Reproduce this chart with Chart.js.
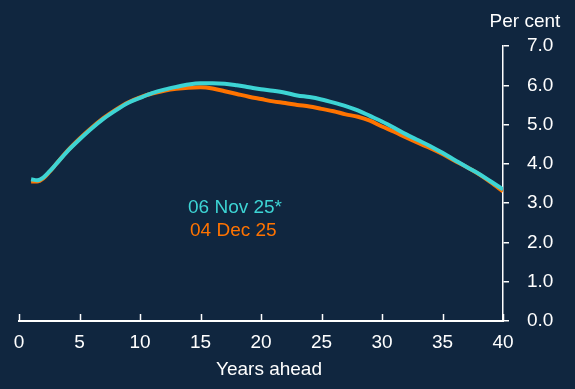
<!DOCTYPE html>
<html>
<head>
<meta charset="utf-8">
<script src="https://cdn.jsdelivr.net/npm/chart.js@4/dist/chart.umd.min.js"></script>
<style>
  html, body { margin: 0; padding: 0; background: #10263f; }
  #wrap { width: 575px; height: 389px; }
</style>
</head>
<body>
<div id="wrap"><canvas id="curve" width="575" height="389"></canvas></div>
<script>
// Years ahead (x) and the two curves
const YEARS = [1, 1.5, 2, 2.5, 3, 4, 5, 6, 7, 8, 9, 10, 11, 12, 13, 14, 15, 16, 17, 18, 19, 20,
    21, 22, 23, 24, 25, 26, 27, 28, 29, 30, 31, 32, 33, 34, 35, 36, 37, 38, 39, 40];
const NOV_25 = [3.61, 3.58, 3.65, 3.80, 3.97, 4.32, 4.62, 4.90, 5.15, 5.36, 5.55, 5.68, 5.80, 5.89, 5.96, 6.02, 6.05, 6.05, 6.04, 6.00, 5.95, 5.90,
    5.86, 5.81, 5.74, 5.70, 5.64, 5.56, 5.47, 5.36, 5.22, 5.08, 4.92, 4.75, 4.60, 4.45, 4.28, 4.10, 3.92, 3.75, 3.55, 3.35];
const DEC_25 = [3.55, 3.55, 3.63, 3.79, 3.97, 4.33, 4.64, 4.92, 5.17, 5.38, 5.56, 5.69, 5.79, 5.86, 5.91, 5.94, 5.95, 5.92, 5.85, 5.78, 5.71, 5.65,
    5.59, 5.55, 5.50, 5.46, 5.40, 5.34, 5.26, 5.20, 5.10, 4.95, 4.82, 4.67, 4.53, 4.40, 4.25, 4.08, 3.92, 3.74, 3.53, 3.30];
const SERIES_NAMES = ["06 Nov 25*", "04 Dec 25"];
const X_TICKS = [0, 5, 10, 15, 20, 25, 30, 35, 40];
const Y_TICKS = [0, 1, 2, 3, 4, 5, 6, 7];

const BG = "#10263f";
const CYAN = "#3dd4d4";
const ORANGE = "#ff7300";
const FONT = "'Liberation Sans', Arial, sans-serif";

const toPoints = (xs, ys) => xs.map((x, i) => ({ x: x, y: ys[i] }));

// fond, petits traits vers le haut sur l'axe x, textes libres
const decor = {
    id: "decor",
    beforeDraw(chart) {
        const ctx = chart.ctx;
        ctx.save();
        ctx.fillStyle = BG;
        ctx.fillRect(0, 0, chart.width, chart.height);
        ctx.restore();
    },
    afterDraw(chart) {
        const ctx = chart.ctx;
        const xs = chart.scales.x;
        const bottom = chart.chartArea.bottom;
        ctx.save();
        ctx.strokeStyle = "#ffffff";
        ctx.lineWidth = 1.5;
        X_TICKS.forEach(v => {
            const px = Math.round(xs.getPixelForValue(v)) + 0.5;
            ctx.beginPath();
            ctx.moveTo(px, bottom);
            ctx.lineTo(px, bottom - 7);
            ctx.stroke();
        });

        ctx.font = "19px " + FONT;
        ctx.textBaseline = "middle";
        ctx.fillStyle = "#ffffff";
        ctx.textAlign = "center";
        ctx.fillText("Per cent", 525, 22);
        ctx.fillText("Years ahead", 269, 370);

        ctx.textAlign = "left";
        ctx.fillStyle = CYAN;
        ctx.fillText(SERIES_NAMES[0], 188, 208);
        ctx.fillStyle = ORANGE;
        ctx.fillText(SERIES_NAMES[1], 190, 231);
        ctx.restore();
    }
};

new Chart(document.getElementById("curve"), {
    type: "line",
    data: {
        datasets: [
            {
                label: SERIES_NAMES[0],
                data: toPoints(YEARS, NOV_25),
                borderColor: CYAN,
                borderWidth: 4,
                pointRadius: 0,
                tension: 0.4,
                cubicInterpolationMode: "monotone",
                fill: false
            },
            {
                label: SERIES_NAMES[1],
                data: toPoints(YEARS, DEC_25),
                borderColor: ORANGE,
                borderWidth: 4,
                pointRadius: 0,
                tension: 0.4,
                cubicInterpolationMode: "monotone",
                fill: false
            }
        ]
    },
    options: {
        responsive: false,
        animation: false,
        layout: { padding: { left: 19, top: 46, right: 0, bottom: 0 } },
        plugins: { legend: { display: false }, tooltip: { enabled: false } },
        scales: {
            x: {
                type: "linear",
                min: 0,
                max: 40,
                afterBuildTicks: axis => { axis.ticks = X_TICKS.map(v => ({ value: v })); },
                afterFit: axis => { axis.height = 68; },
                grid: { display: false, drawTicks: false },
                border: { display: true, color: "#ffffff", width: 2 },
                ticks: { color: "#ffffff", font: { family: FONT, size: 19 }, padding: 10, maxRotation: 0 }
            },
            y: {
                position: "right",
                min: 0,
                max: 7,
                afterBuildTicks: axis => { axis.ticks = Y_TICKS.map(v => ({ value: v })); },
                afterFit: axis => { axis.width = 72; },
                grid: { drawOnChartArea: false, drawTicks: true, tickLength: 6, color: "#ffffff", lineWidth: 1.5 },
                border: { display: true, color: "#ffffff", width: 1.5 },
                ticks: {
                    color: "#ffffff",
                    font: { family: FONT, size: 19 },
                    padding: 18,
                    callback: v => v.toFixed(1)
                }
            }
        }
    },
    plugins: [decor]
});
</script>
</body>
</html>
